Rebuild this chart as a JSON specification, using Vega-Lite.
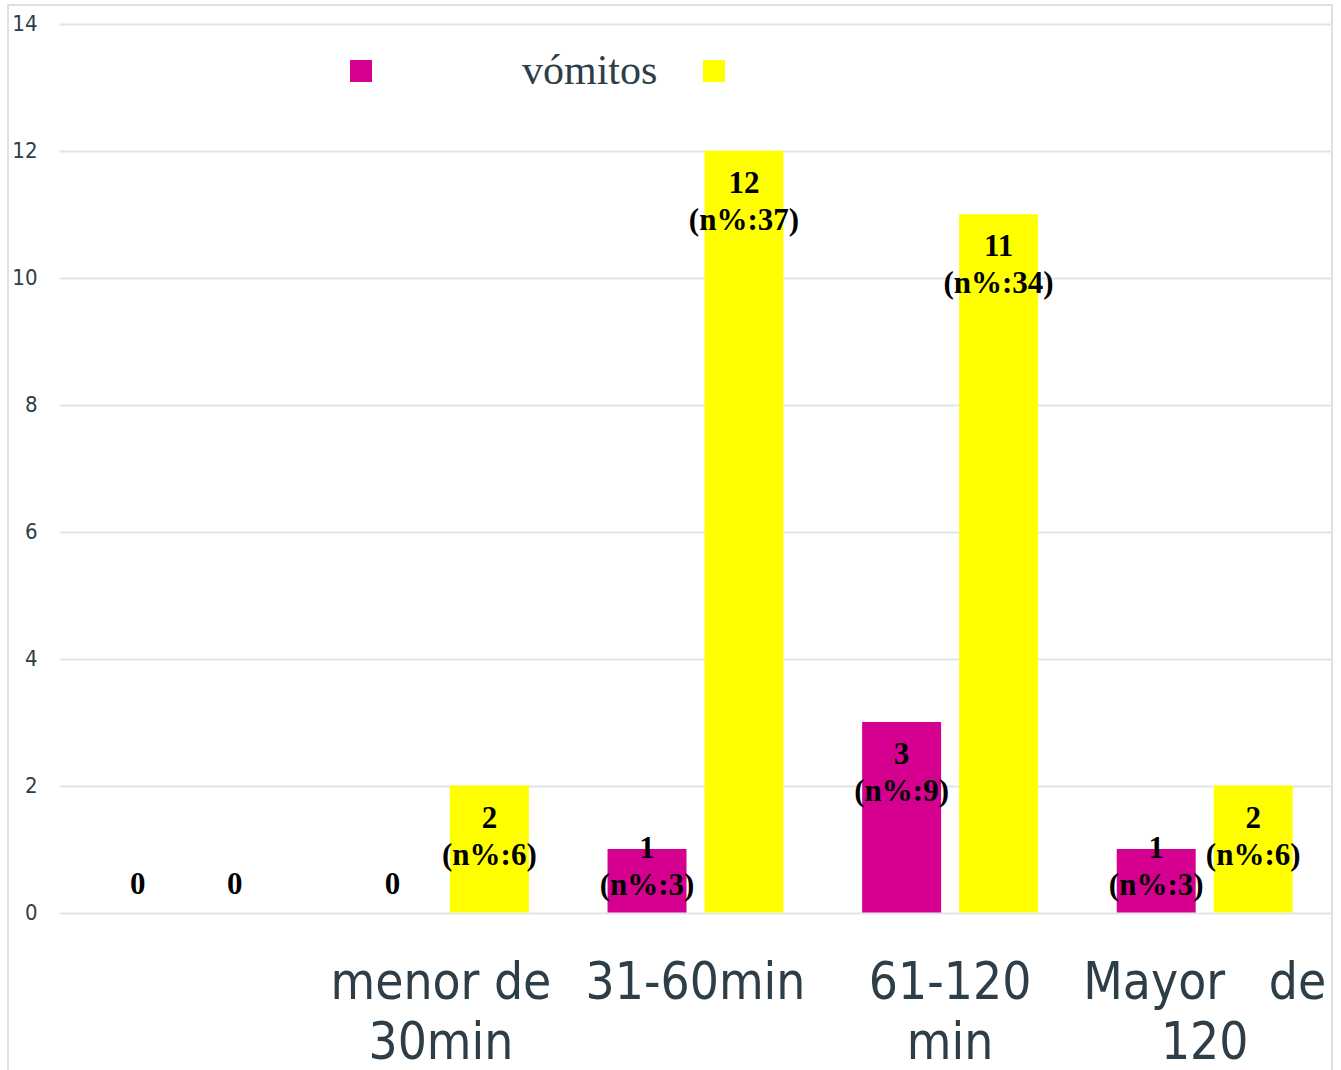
{
  "$schema": "https://vega.github.io/schema/vega-lite/v6.json",
  "width": 1324,
  "height": 1068,
  "autosize": {"type": "none"},
  "padding": {"left": 8, "top": 5, "right": 9, "bottom": -3},
  "background": "white",
  "config": {
    "view": {"stroke": "#dbe2e5", "strokeWidth": 2},
    "text": {"font": "Liberation Serif"}
  },
  "data": {
    "values": [
      {"tiempo": "", "serie": "vómitos", "casos": 0, "pct": 0},
      {"tiempo": "", "serie": "sin vómitos", "casos": 0, "pct": 0},
      {"tiempo": "menor de 30min", "serie": "vómitos", "casos": 0, "pct": 0},
      {"tiempo": "menor de 30min", "serie": "sin vómitos", "casos": 2, "pct": 6},
      {"tiempo": "31-60min", "serie": "vómitos", "casos": 1, "pct": 3},
      {"tiempo": "31-60min", "serie": "sin vómitos", "casos": 12, "pct": 37},
      {"tiempo": "61-120 min", "serie": "vómitos", "casos": 3, "pct": 9},
      {"tiempo": "61-120 min", "serie": "sin vómitos", "casos": 11, "pct": 34},
      {"tiempo": "Mayor de 120", "serie": "vómitos", "casos": 1, "pct": 3},
      {"tiempo": "Mayor de 120", "serie": "sin vómitos", "casos": 2, "pct": 6}
    ]
  },
  "transform": [
    {"calculate": "max(datum.casos, datum.casos == 0 ? 0.95 : 1.52)", "as": "posEtiqueta"},
    {"calculate": "datum.casos == 0 ? '0' : [toString(datum.casos), '(n%:' + datum.pct + ')']", "as": "etiqueta"}
  ],
  "encoding": {
    "x": {
      "field": "tiempo",
      "type": "nominal",
      "scale": {
        "domain": ["", "menor de 30min", "31-60min", "61-120 min", "Mayor de 120"],
        "range": [51, 1324],
        "paddingInner": 0,
        "paddingOuter": 0
      },
      "axis": {
        "title": null,
        "orient": "bottom",
        "offset": -160.5,
        "domain": false,
        "ticks": false,
        "tickSize": 0,
        "grid": false,
        "labelAngle": 0,
        "labelFont": "DejaVu Sans Condensed, DejaVu Sans",
        "labelFontSize": 51,
        "labelColor": "#2d3e48",
        "labelBaseline": "alphabetic",
        "labelPadding": 86,
        "labelLineHeight": 60,
        "labelLimit": 0,
        "labelOverlap": false,
        "labelBound": false,
        "labelFlush": false,
        "labelExpr": "datum.value == 'menor de 30min' ? ['menor de', '30min'] : datum.value == '61-120 min' ? ['61-120', 'min'] : datum.value == 'Mayor de 120' ? ['Mayor\u00a0\u00a0 de', '120'] : datum.label"
      }
    },
    "xOffset": {
      "field": "serie",
      "type": "nominal",
      "scale": {"domain": ["vómitos", "sin vómitos"], "paddingInner": 0.1856, "paddingOuter": 0.4057}
    }
  },
  "layer": [
    {
      "mark": {"type": "bar"},
      "encoding": {
        "y": {
          "field": "casos",
          "type": "quantitative",
          "scale": {"domain": [0, 14], "range": [907.5, 18.7], "nice": false, "zero": true},
          "axis": {
            "title": null,
            "values": [0, 2, 4, 6, 8, 10, 12, 14],
            "format": "d",
            "domain": false,
            "ticks": false,
            "tickSize": 0,
            "grid": true,
            "gridColor": "#dfe5e8",
            "gridWidth": 2,
            "labelFont": "DejaVu Sans Condensed, DejaVu Sans",
            "labelFontSize": 22,
            "labelColor": "#2d3e48",
            "labelAlign": "right",
            "labelPadding": -29
          }
        },
        "color": {
          "field": "serie",
          "type": "nominal",
          "scale": {"domain": ["vómitos", "sin vómitos"], "range": ["#d5008f", "#ffff00"]},
          "legend": {
            "title": null,
            "orient": "none",
            "direction": "horizontal",
            "legendX": 332,
            "legendY": 45,
            "padding": 0,
            "symbolType": "square",
            "symbolSize": 484,
            "symbolStrokeWidth": 0,
            "symbolOpacity": 1,
            "labelOffset": 140,
            "columnPadding": 35,
            "labelFont": "Liberation Serif",
            "labelFontSize": 42,
            "labelColor": "#2d3e48",
            "labelLimit": 0,
            "labelExpr": "datum.value == 'vómitos' ? 'vómitos' : ''"
          }
        }
      }
    },
    {
      "mark": {
        "type": "text",
        "font": "Liberation Serif",
        "fontWeight": "bold",
        "fontSize": 31,
        "lineHeight": 37,
        "baseline": "alphabetic",
        "align": "center",
        "dy": 42,
        "color": "black"
      },
      "encoding": {
        "y": {
          "field": "posEtiqueta",
          "type": "quantitative",
          "scale": {"domain": [0, 14], "range": [907.5, 18.7], "nice": false, "zero": true},
          "axis": {
            "title": null,
            "values": [0, 2, 4, 6, 8, 10, 12, 14],
            "format": "d",
            "domain": false,
            "ticks": false,
            "tickSize": 0,
            "grid": true,
            "gridColor": "#dfe5e8",
            "gridWidth": 2,
            "labelFont": "DejaVu Sans Condensed, DejaVu Sans",
            "labelFontSize": 22,
            "labelColor": "#2d3e48",
            "labelAlign": "right",
            "labelPadding": -29
          }
        },
        "text": {"field": "etiqueta", "type": "nominal"}
      }
    }
  ]
}
